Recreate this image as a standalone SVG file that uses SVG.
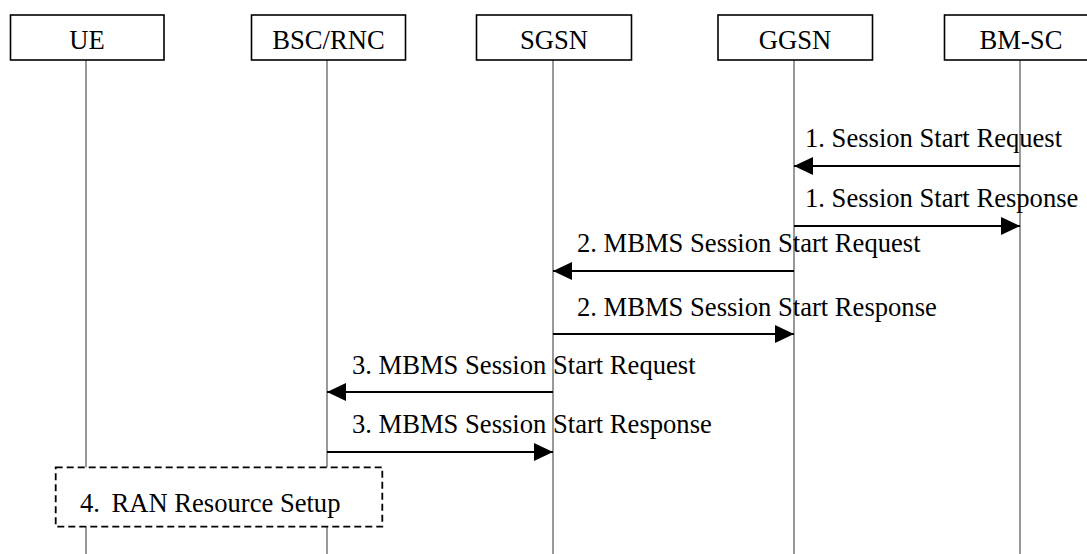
<svg xmlns="http://www.w3.org/2000/svg" width="1087" height="554" viewBox="0 0 1087 554">
<style>
text{font-family:"Liberation Serif","Times New Roman",serif;font-size:26.6px;fill:#000}
.node rect{fill:#fff;stroke:#000;stroke-width:1.6}
.node text{text-anchor:middle}
.life{stroke:#555;stroke-width:1.2}
.msg{stroke:#000;stroke-width:1.8;fill:none;marker-end:url(#ah)}
</style>
<defs>
<marker id="ah" markerUnits="userSpaceOnUse" markerWidth="20" markerHeight="19" refX="19" refY="9" orient="auto">
<path d="M0,0 L19,9 L0,18 z" fill="#000"/>
</marker>
</defs>
<g id="lifelines">
<line class="life" x1="86" y1="60" x2="86" y2="554"/>
<line class="life" x1="327" y1="60" x2="327" y2="554"/>
<line class="life" x1="553" y1="60" x2="553" y2="554"/>
<line class="life" x1="794" y1="60" x2="794" y2="554"/>
<line class="life" x1="1020" y1="60" x2="1020" y2="554"/>
</g>
<g id="node-ue" class="node"><rect x="10.5" y="15" width="153.5" height="45"/><text x="87" y="49">UE</text></g>
<g id="node-bsc" class="node"><rect x="251.5" y="15" width="154" height="45"/><text x="328.5" y="49">BSC/RNC</text></g>
<g id="node-sgsn" class="node"><rect x="476.5" y="15" width="155" height="45"/><text x="554" y="49">SGSN</text></g>
<g id="node-ggsn" class="node"><rect x="718" y="15" width="154.5" height="45"/><text x="795" y="49">GGSN</text></g>
<g id="node-bmsc" class="node"><rect x="944.5" y="15" width="153" height="45"/><text x="1021" y="49">BM-SC</text></g>
<g id="connectors">
<line class="msg" x1="1020" y1="166" x2="794" y2="166"/>
<text x="805" y="147">1. Session Start Request</text>
<line class="msg" x1="794" y1="226" x2="1020" y2="226"/>
<text x="805" y="207">1. Session Start Response</text>
<line class="msg" x1="794" y1="271" x2="553" y2="271"/>
<text x="577" y="252">2. MBMS Session Start Request</text>
<line class="msg" x1="553" y1="334" x2="794" y2="334"/>
<text x="577" y="316">2. MBMS Session Start Response</text>
<line class="msg" x1="553" y1="392" x2="327" y2="392"/>
<text x="352" y="374">3. MBMS Session Start Request</text>
<line class="msg" x1="327" y1="452" x2="553" y2="452"/>
<text x="352" y="433">3. MBMS Session Start Response</text>
</g>
<g id="node-ran">
<rect x="55.7" y="467.3" width="326.6" height="59.4" fill="#fff" stroke="#000" stroke-width="1.8" stroke-dasharray="7,4"/>
<text x="80" y="512">4.<tspan x="111.5">RAN Resource Setup</tspan></text>
</g>
</svg>
